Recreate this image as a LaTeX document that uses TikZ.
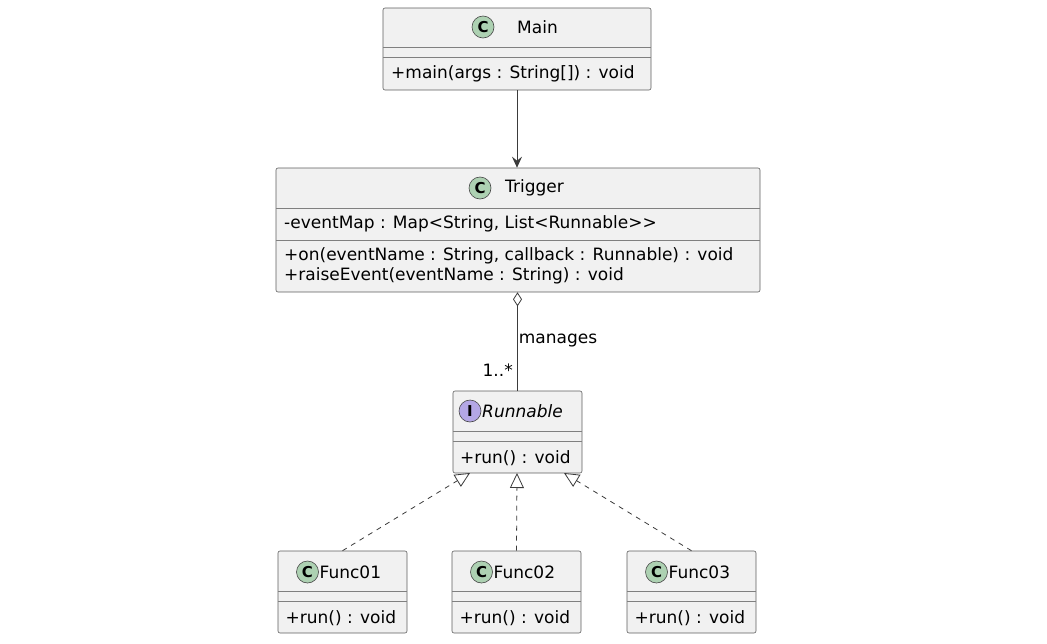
\documentclass[tikz,border=0pt]{standalone}
\usepackage{fontspec}
\setmainfont{DejaVu Sans}
\usetikzlibrary{arrows.meta,shapes.geometric}
\definecolor{boxbg}{HTML}{F1F1F1}
\definecolor{boxln}{HTML}{181818}
\definecolor{cgreen}{HTML}{ADD1B2}
\definecolor{ipurp}{HTML}{B4A7E5}
\begin{document}
\begin{tikzpicture}[x=1pt,y=-1pt,
  box/.style={draw=boxln!70,fill=boxbg,rounded corners=2pt,line width=0.6pt,inner sep=0pt},
  sep/.style={draw=boxln!55,line width=0.6pt},
  txt/.style={font=\fontsize{17}{19}\selectfont,inner sep=0pt,anchor=west},
  ttl/.style={font=\fontsize{17}{19}\selectfont,inner sep=0pt,anchor=west},
  icon/.style={circle,draw=boxln!80,line width=0.6pt,minimum size=22pt,inner sep=0pt,font=\fontsize{15}{16}\bfseries\selectfont},
  ln/.style={draw=boxln!85,line width=0.8pt}]
\useasboundingbox (0,0) rectangle (1047,643);
% Main
\node[box,minimum width=268pt,minimum height=82pt] (main) at (517,49) {};
\draw[sep] (383,47) -- (651,47) (383,57) -- (651,57);
\node[icon,fill=cgreen] (mainI) at (483,27) {C};
\node[ttl] (mainT) at (517,27) {Main};
\node[txt] (mainM) at (391,74) {+main(args : String[]) : void};
% Trigger
\node[box,minimum width=484pt,minimum height=124pt] (trig) at (518,230) {};
\draw[sep] (276,208) -- (760,208) (276,240) -- (760,240);
\node[icon,fill=cgreen] (trigI) at (480,188) {C};
\node[ttl] (trigT) at (505,188) {Trigger};
\node[txt] (trigA) at (284,224) {-eventMap : Map<String, List<Runnable>{}>};
\node[txt] (trigM1) at (284,256) {+on(eventName : String, callback : Runnable) : void};
\node[txt] (trigM2) at (284,276) {+raiseEvent(eventName : String) : void};
% Runnable
\node[box,minimum width=129pt,minimum height=82pt] (run) at (517.5,432) {};
\draw[sep] (453,431) -- (582,431) (453,441) -- (582,441);
\node[icon,fill=ipurp] (runI) at (470,411) {I};
\node[ttl,font=\fontsize{17}{19}\itshape\selectfont] (runT) at (482,411) {Runnable};
\node[txt] (runM) at (460,458) {+run() : void};
% Funcs
\foreach \n/\cx in {01/342.5,02/516.5,03/691.5}{
  \node[box,minimum width=129pt,minimum height=82pt] (f\n) at (\cx,592) {};
  \draw[sep] (\cx-64.5,591) -- (\cx+64.5,591) (\cx-64.5,601) -- (\cx+64.5,601);
  \node[icon,fill=cgreen] (f\n I) at (\cx-35,572) {C};
  \node[ttl] (f\n T) at (\cx-23,572) {Func\n};
  \node[txt] (f\n M) at (\cx-57,618) {+run() : void};
}
% connectors
\draw[ln,-{Stealth[length=11pt,width=10pt,inset=4pt]}] (main.south) -- (trig.north -| main.south);
\draw[ln,{Diamond[open,length=14pt,width=9pt,fill=white]}-] (trig.south -| run.north) -- (run.north) node[pos=0.49,right=1pt,font=\fontsize{17}{19}\selectfont,inner sep=0pt] (lab) {manages};
\node[font=\fontsize{17}{19}\selectfont,anchor=east,inner sep=0pt] (mult) at (513,370) {1..*};
\draw[ln,dashed,dash pattern=on 5pt off 5pt,-{Triangle[open,length=15pt,width=14pt,fill=white]}] (f01.north) -- (470,473);
\draw[ln,dashed,dash pattern=on 5pt off 5pt,-{Triangle[open,length=15pt,width=14pt,fill=white]}] (f02.north) -- (517,473);
\draw[ln,dashed,dash pattern=on 5pt off 5pt,-{Triangle[open,length=15pt,width=14pt,fill=white]}] (f03.north) -- (564,473);
\end{tikzpicture}
\end{document}
